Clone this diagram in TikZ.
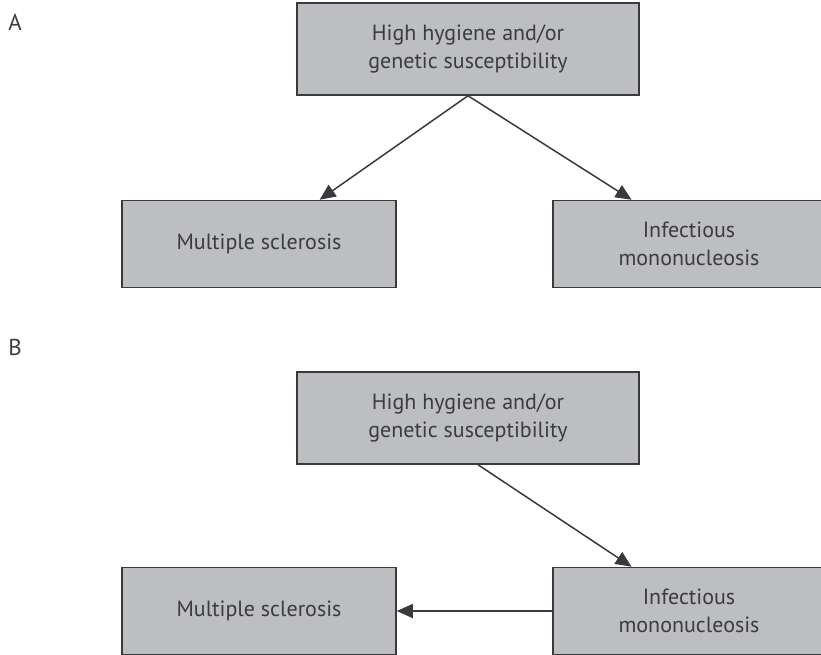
\documentclass[tikz,border=0pt]{standalone}
\usepackage{fontspec}
\setmainfont{PT Sans}
\usetikzlibrary{arrows.meta,calc}

\definecolor{boxgray}{HTML}{BDBEC1}
\definecolor{boxline}{HTML}{3A3A3C}
\definecolor{textgray}{HTML}{3C3C3E}

\begin{document}
\begin{tikzpicture}[x=1pt, y=-1pt,
        box/.style={draw=boxline, fill=boxgray, line width=1.5pt, minimum height=87pt,
            align=center, text=textgray, inner sep=0pt, font=\fontsize{22}{28}\selectfont},
        link/.style={draw=boxline, line width=1.5pt, -{Triangle[length=16pt,width=14pt]}},
        panel/.style={text=textgray, font=\fontsize{23}{26}\selectfont}]
        \useasboundingbox (0,0) rectangle (821,655);

        % Panel A
        \node[panel] (labelA) at (15,22) {A};
        \node[box, minimum width=342pt, minimum height=92pt] (hygA) at (468,49)
            {High hygiene and/or\\genetic susceptibility};
        \node[box, minimum width=274pt] (msA) at (259,244) {Multiple sclerosis};
        \node[box, minimum width=272pt] (imA) at (689,244) {Infectious\\mononucleosis};

        \draw[link] (hygA.south) -- ($(msA.north west)!0.72!(msA.north east)$);
        \draw[link] (hygA.south) -- ($(imA.north west)!0.29!(imA.north east)$);

        % Panel B
        \node[panel] (labelB) at (15,347) {B};
        \node[box, minimum width=342pt, minimum height=92pt] (hygB) at (468,418)
            {High hygiene and/or\\genetic susceptibility};
        \node[box, minimum width=274pt] (msB) at (259,611) {Multiple sclerosis};
        \node[box, minimum width=272pt] (imB) at (689,611) {Infectious\\mononucleosis};

        \draw[link] ($(hygB.south)+(10,0)$) -- ($(imB.north west)!0.29!(imB.north east)$);
        \draw[link] (imB.west) -- (msB.east);
    \end{tikzpicture}
\end{document}
